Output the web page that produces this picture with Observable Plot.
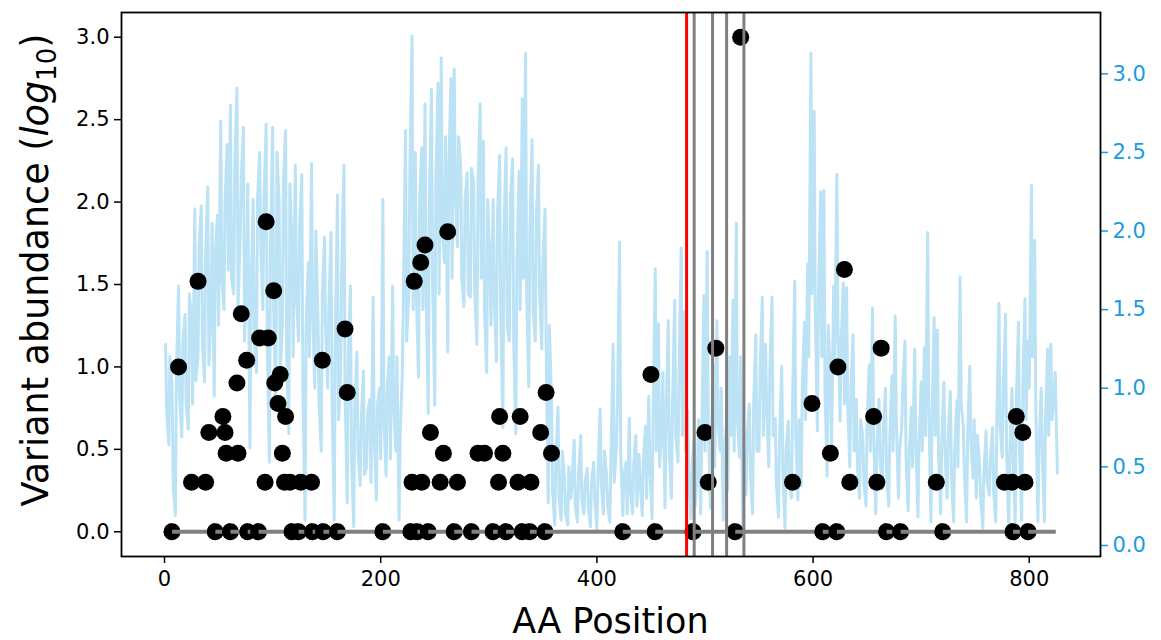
<!DOCTYPE html>
<html><head><meta charset="utf-8">
<script src="https://cdn.jsdelivr.net/npm/d3@7"></script>
<script src="https://cdn.jsdelivr.net/npm/@observablehq/plot@0.6"></script>
<style>
body{margin:0;background:#fff;}
svg{font-family:"DejaVu Sans",sans-serif;}
</style>
</head><body><div id="chart"></div>
<script>
// Variant dots: AA position and log10 abundance
const dotPos = [7,13,25,31,38,41,47,54,56,57,61,68,67,71,76,77,87,88,93,94,96,101,102,105,107,109,112,111,116,118,124,126,136,137,147,146,160,167,169,
  202,228,229,231,234,237,238,241,244,246,255,258,262,268,271,284,290,296,304,309,310,313,316,329,327,331,339,338,348,352,353,358,
  424,450,454,489,500,503,510,528,533,581,599,609,616,622,623,629,634,656,659,663,668,681,714,720,777,784,785,788,794,796,799];
const dotVal = [0,1.0,0.301,1.519,0.301,0.602,0,0.699,0.602,0.477,0,0.477,0.903,1.322,1.041,0,0,1.176,0.301,1.881,1.176,1.462,0.903,0.778,0.954,0.477,0.699,0.301,0.301,0,0,0.301,0.301,0,0,1.041,0,1.230,0.845,
  0,0,0.301,1.519,0,1.633,0.301,1.740,0,0.602,0.301,0.477,1.820,0,0.301,0,0.477,0.477,0,0.301,0.699,0.477,0,0.699,0.301,0,0.301,0,0.602,0,0.845,0.477,
  0,0.954,0,0,0.602,0.301,1.114,0,3.0,0.301,0.778,0,0.477,0,1.0,1.591,0.301,0.699,0.301,1.114,0,0,0.301,0,0.301,0.301,0,0.699,0.602,0.301,0];

// Blue series (right axis), read at AA positions 1, 4, 7, ... (blueVal)
// and at positions 2, 5, 8, ... (blueMid)
const blueStart = 1, blueMidStart = 2, blueStep = 3;
const blueVal = [
1.28,0.64,1.01,0.19,1.65,0.69,1.47,0.74,1.43,2.14,
1.20,2.16,1.04,2.28,1.45,0.95,2.10,2.70,1.50,2.55,
2.80,1.60,2.91,1.98,2.66,1.70,0.62,2.20,1.10,2.50,
1.50,2.68,0.53,2.66,0.86,2.20,1.40,2.64,0.71,1.90,
2.42,1.30,2.36,0.16,1.80,2.43,1.00,1.43,0.60,1.96,
1.00,1.99,0.16,2.23,1.10,2.42,0.27,1.65,0.12,1.23,
0.38,1.11,0.50,0.93,1.58,0.29,1.00,2.20,0.44,1.20,
1.65,0.60,0.16,1.10,2.64,1.60,3.24,2.50,1.07,2.53,
2.81,0.84,2.90,0.89,2.94,3.10,1.80,1.23,2.97,3.03,
1.90,2.42,1.52,2.37,1.58,2.31,1.28,2.81,2.57,1.10,
1.80,2.20,1.17,2.48,0.75,2.53,1.30,2.46,0.71,2.38,
2.84,3.13,1.01,2.58,1.30,2.42,1.25,2.14,0.27,0.93,
0.13,0.88,0.16,0.43,0.13,0.30,0.67,0.15,0.70,0.20,
0.49,0.12,0.53,0.10,0.87,0.20,0.44,0.15,1.28,0.62,
1.93,0.19,0.53,0.81,0.20,0.70,0.58,0.19,0.76,0.95,
0.17,1.76,1.41,0.74,0.24,1.43,0.30,1.56,0.53,1.89,
1.49,0.86,0.17,0.69,0.49,0.20,1.59,1.87,0.24,1.14,
1.43,0.60,0.16,0.81,1.20,1.56,2.05,0.56,0.10,0.32,
0.90,0.20,1.34,0.60,1.58,1.28,0.50,1.58,0.81,0.18,
1.14,0.11,0.79,0.30,1.68,0.29,0.38,1.42,1.79,3.13,
2.76,0.73,2.25,2.26,0.44,1.08,1.65,2.36,0.79,1.67,
1.64,0.50,1.34,0.93,0.30,0.69,0.25,1.15,1.51,0.20,
0.93,0.36,1.00,0.25,1.08,1.46,0.30,0.75,1.30,0.22,
0.88,1.25,0.18,1.04,1.26,1.99,0.15,1.45,1.37,0.20,
1.04,0.30,0.98,0.15,0.92,1.71,0.75,0.15,1.14,0.43,
0.30,0.51,0.11,0.73,0.32,0.75,0.15,1.54,0.56,1.47,
0.12,1.00,0.15,1.42,0.16,1.57,1.30,2.29,1.94,0.15,
1.00,0.15,1.25,1.28,0.95,0.46
];
const blueMid = [
0.85,1.20,0.40,1.10,0.95,1.30,0.90,1.60,0.90,1.05,
1.90,1.30,1.85,1.15,2.05,1.85,1.40,1.70,2.20,1.75,
1.70,2.40,1.50,2.35,1.30,2.30,1.60,1.30,2.20,1.90,
2.20,1.30,1.90,1.50,2.50,1.10,2.30,1.20,2.30,1.20,
1.60,2.05,1.00,1.40,1.20,1.50,2.00,0.90,1.60,1.40,
1.50,0.90,1.30,0.80,1.80,1.00,1.20,0.55,0.90,0.60,
0.80,0.45,0.85,0.40,0.70,0.90,0.55,0.80,1.00,0.55,
0.90,1.20,0.70,1.60,1.30,2.40,1.50,1.60,2.20,1.50,
1.60,2.20,1.70,2.30,1.60,2.00,2.60,2.40,1.70,2.30,
2.60,1.70,2.20,1.60,2.40,1.60,2.30,1.70,1.50,2.20,
1.40,1.60,2.10,1.50,2.00,1.40,2.20,1.30,1.80,1.50,
1.70,1.60,2.00,1.50,2.10,1.60,1.80,1.30,1.40,0.35,
0.55,0.30,0.60,0.20,0.50,0.40,0.25,0.45,0.30,0.40,
0.25,0.40,0.30,0.45,0.40,0.60,0.25,0.55,0.40,0.90,
0.60,0.45,0.20,0.35,0.50,0.25,0.40,0.55,0.30,0.50,
0.80,0.60,0.50,1.10,0.80,0.60,0.90,0.70,1.10,0.70,
0.60,0.40,0.50,0.25,0.80,0.70,0.60,0.80,0.70,0.50,
0.80,1.00,0.55,0.35,0.70,0.60,0.80,1.20,0.60,0.70,
0.45,0.90,0.60,1.10,0.70,0.90,1.10,0.70,0.40,0.70,
0.50,0.60,0.40,0.90,0.70,0.80,1.00,0.80,1.20,1.60,
1.50,1.60,1.20,1.00,1.40,0.60,1.10,1.40,1.30,0.90,
0.90,1.00,0.60,0.50,0.80,0.40,0.80,0.60,0.70,0.60,
0.55,0.75,0.45,0.70,0.60,0.80,0.60,1.00,0.55,0.60,
0.50,0.70,0.65,0.60,0.70,0.90,0.80,0.70,0.60,0.65,
0.60,0.70,0.45,0.60,0.50,0.90,0.45,0.70,0.65,0.80,
0.70,0.30,0.45,0.40,0.55,0.35,0.80,0.75,1.00,0.60,
0.60,0.50,0.90,0.60,1.00,0.80,1.00,1.20,0.90,0.60,
0.60,0.80,0.70,0.80,1.10
];

const baselineSpan = [7, 825];
const redSite = [483];
const graySites = [490, 507, 520, 536];
const xTicks = [0, 200, 400, 600, 800];
const leftTicks = [0, 0.5, 1, 1.5, 2, 2.5, 3];
const rightTicks = [0, 0.5, 1, 1.5, 2, 2.5, 3];

// scales
const xDomain = [-39.8, 865.9];
const leftDomain = [-0.15, 3.15];
const rightDomain = [-0.07, 3.39];
const toLeft = v => leftDomain[0] + (v - rightDomain[0]) / (rightDomain[1] - rightDomain[0]) * (leftDomain[1] - leftDomain[0]);
const fromLeft = v => rightDomain[0] + (v - leftDomain[0]) / (leftDomain[1] - leftDomain[0]) * (rightDomain[1] - rightDomain[0]);

const dots = dotPos.map((p, i) => ({pos: p, val: dotVal[i]}));
const blue = blueVal.map((v, i) => ({pos: blueStart + i * blueStep, val: toLeft(v)}))
  .concat(blueMid.map((v, i) => ({pos: blueMidStart + i * blueStep, val: toLeft(v)})))
  .sort((a, b) => a.pos - b.pos);
const zeroDots = dots.filter(d => d.val === 0);

const tickBlue = "#1b9be0";
const lineBlue = "#bce2f5";

const leftHalf = {
  draw(context, size) {
    const r = Math.sqrt(size / Math.PI);
    context.moveTo(0, -r);
    context.arc(0, 0, r, -Math.PI / 2, Math.PI / 2, true);
    context.closePath();
  }
};

const fmt = d3.format(".1f");

const chart = Plot.plot({
  width: 1161,
  height: 640,
  marginLeft: 121,
  marginRight: 61,
  marginTop: 12,
  marginBottom: 84,
  style: {fontFamily: "DejaVu Sans", fontSize: "21px", background: "white", color: "black"},
  x: {domain: xDomain},
  y: {domain: leftDomain},
  marks: [
    Plot.line(blue, {x: "pos", y: "val", stroke: lineBlue, strokeWidth: 3, strokeLinejoin: "round"}),
    Plot.dot(dots, {x: "pos", y: "val", r: 8.5, fill: "black", stroke: null}),
    Plot.ruleY([0], {x1: baselineSpan[0], x2: baselineSpan[1], stroke: "#808080", strokeWidth: 4}),
    Plot.dot(zeroDots, {x: "pos", y: "val", r: 8.5, fill: "black", stroke: null, symbol: leftHalf}),
    Plot.ruleX(redSite, {stroke: "#ff0000", strokeWidth: 3}),
    Plot.ruleX(graySites, {stroke: "#808080", strokeWidth: 3}),
    Plot.axisX({ticks: xTicks, tickSize: 7, tickPadding: 8, fontSize: 21, label: null, strokeWidth: 1.5, tickFormat: d => String(d)}),
    Plot.axisY({ticks: leftTicks, tickSize: 7, tickPadding: 5, fontSize: 21, label: null, strokeWidth: 1.5, tickFormat: fmt}),
    Plot.axisY({anchor: "right", ticks: rightTicks.map(toLeft), tickSize: 7, tickPadding: 5, fontSize: 21, label: null, strokeWidth: 1.5, color: tickBlue,
      tickFormat: d => fmt(Math.round(fromLeft(d) * 10) / 10 + 0)}),
    Plot.frame({stroke: "black", strokeWidth: 1.8})
  ]
});

const svg = d3.select(chart);
svg.append("text")
  .attr("x", 610.5).attr("y", 633)
  .attr("text-anchor", "middle")
  .attr("font-size", 35)
  .attr("fill", "black")
  .text("AA Position");

const yl = svg.append("text")
  .attr("transform", "translate(48,270) rotate(-90)")
  .attr("text-anchor", "middle")
  .attr("font-size", 36.5)
  .attr("fill", "black");
yl.append("tspan").text("Variant abundance (");
yl.append("tspan").attr("font-style", "italic").text("log");
yl.append("tspan").attr("font-size", 26).attr("dy", 8).text("10");
yl.append("tspan").attr("dy", -8).text(")");

document.getElementById("chart").appendChild(chart);
</script>
</body></html>
